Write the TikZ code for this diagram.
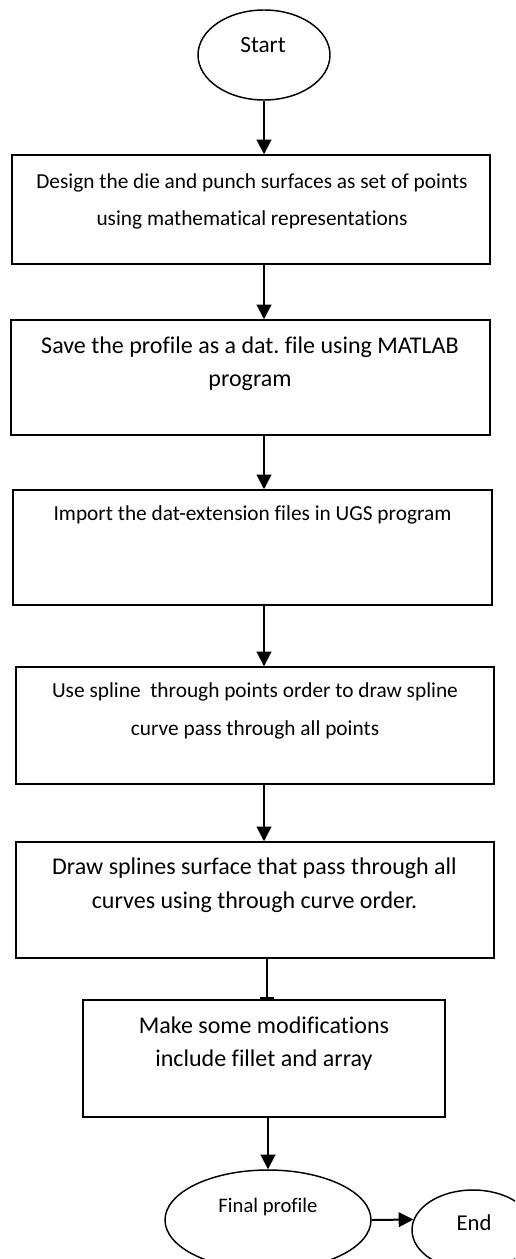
\documentclass[tikz,border=0pt]{standalone}
\usepackage{fontspec}
\setmainfont[Ligatures={NoCommon}]{Carlito}
\usetikzlibrary{shapes.geometric,arrows.meta}
\frenchspacing
\begin{document}
\begin{tikzpicture}[x=0.75pt,y=-0.75pt,
  boxn/.style={draw=black,line width=1.1pt,rectangle,inner sep=0pt},
  ovaln/.style={draw=black,line width=1.1pt,ellipse,inner sep=0pt},
  txtbig/.style={align=center,inner sep=0pt,font=\fontsize{18}{24.75}\selectfont},
  txtsmall/.style={align=center,inner sep=0pt,font=\fontsize{16}{27.75}\selectfont},
  arr/.style={line width=1.5pt,-{Triangle[width=11pt,length=11pt]}},
  barline/.style={line width=1.5pt,-{Bar[width=10pt]}}]
\path[use as bounding box,clip] (0,0) rectangle (515,1259);
% shapes
\node[ovaln,minimum width=0.75*132,minimum height=0.75*90] (start) at (264,55) {};
\node[boxn,minimum width=0.75*478,minimum height=0.75*109] (b1) at (251,209.5) {};
\node[boxn,minimum width=0.75*479,minimum height=0.75*115] (b2) at (250.5,377.5) {};
\node[boxn,minimum width=0.75*479,minimum height=0.75*115] (b3) at (252.5,547.5) {};
\node[boxn,minimum width=0.75*478,minimum height=0.75*117] (b4) at (255,725.5) {};
\node[boxn,minimum width=0.75*478,minimum height=0.75*116] (b5) at (255,900) {};
\node[boxn,minimum width=0.75*362,minimum height=0.75*117] (b6) at (264,1058.5) {};
\node[ovaln,minimum width=0.75*206,minimum height=0.75*100] (final) at (268,1220) {};
\node[ovaln,minimum width=0.75*122,minimum height=0.75*80] (end) at (473,1230) {};
% texts
\node[inner sep=0pt,font=\fontsize{17.5}{20}\selectfont] (tstart) at (263,45) {Start};
\node[txtsmall] (t1) at (252,201.5) {Design the die and punch surfaces as set of points\\using mathematical representations};
\node[txtbig] (t2) at (250,363.5) {Save the profile as a dat. file using MATLAB\\program};
\node[txtsmall] (t3) at (252.5,515) {Import the dat-extension files in UGS program};
\node[txtsmall,font=\fontsize{16}{28.5}\selectfont] (t4) at (255,711) {Use spline\ \ through points order to draw spline\\curve pass through all points};
\node[txtbig,font=\fontsize{18}{25.5}\selectfont] (t5) at (254.5,885) {Draw splines surface that pass through all\\curves using through curve order.};
\node[txtbig] (t6) at (264,1043.5) {Make some modifications\\include fillet and array};
\node[inner sep=0pt,font=\fontsize{15.5}{18}\selectfont] (tfinal) at (268,1207) {Final profile};
\node[inner sep=0pt,font=\fontsize{17}{20}\selectfont] (tend) at (474,1223) {End};
% connectors
\draw[arr] (start.south) -- (start.south |- b1.north);
\draw[arr] (b1.south -| start.south) -- (b2.north -| start.south);
\draw[arr] (b2.south -| start.south) -- (b3.north -| start.south);
\draw[arr] (b3.south -| start.south) -- (b4.north -| start.south);
\draw[arr] (b4.south -| start.south) -- (b5.north -| start.south);
\coordinate (c56) at (267,0);
\draw[barline] (b5.south -| c56) -- (b6.north -| c56);
\draw[arr] (b6.south -| final.north) -- (final.north);
\draw[arr] (final.east) -- (end.170);
\end{tikzpicture}
\end{document}
